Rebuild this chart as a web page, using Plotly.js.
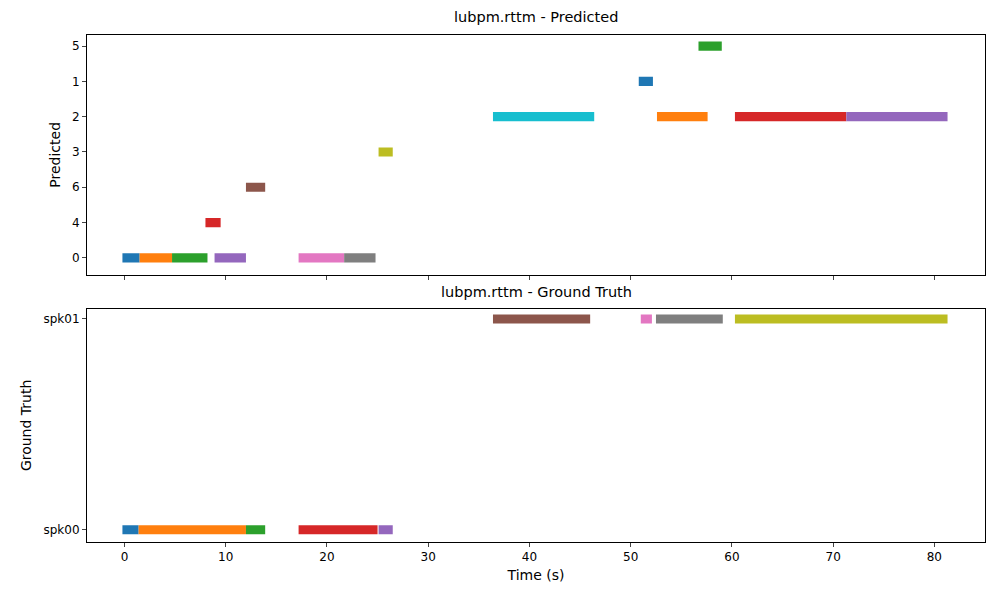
<!DOCTYPE html>
<html>
<head>
<script src="https://cdn.plot.ly/plotly-3.0.1.min.js"></script>
</head>
<body style="margin:0">
<div id="chart" style="width:1000px;height:600px"></div>
<script>
// Predicted segments: label, start, end (seconds)
var predLabels = ['0', '0', '0', '4', '0', '6', '0', '0', '3', '2', '1', '2', '5', '2', '2'];
var predStart = [-0.2, 1.5, 4.7, 8.0, 8.9, 12.0, 17.2, 21.7, 25.1, 36.4, 50.8, 52.6, 56.7, 60.3, 71.3];
var predEnd = [1.5, 4.7, 8.2, 9.5, 12.0, 13.9, 21.7, 24.8, 26.5, 46.4, 52.2, 57.6, 59.0, 71.3, 81.3];
var predOrder = ['0', '4', '6', '3', '2', '1', '5'];

// Ground truth segments
var gtLabels = ['spk00', 'spk00', 'spk00', 'spk00', 'spk00', 'spk01', 'spk01', 'spk01', 'spk01'];
var gtStart = [-0.2, 1.4, 12.0, 17.2, 25.1, 36.4, 51.0, 52.5, 60.3];
var gtEnd = [1.4, 12.0, 13.9, 25.0, 26.5, 46.0, 52.1, 59.1, 81.3];
var gtOrder = ['spk00', 'spk01'];

var colors = ['#1f77b4', '#ff7f0e', '#2ca02c', '#d62728', '#9467bd',
              '#8c564b', '#e377c2', '#7f7f7f', '#bcbd22', '#17becf'];

var data = [];
function addSegs(labels, starts, ends, order, yax, w) {
    for (var i = 0; i < labels.length; i++) {
        data.push({
            type: 'bar', orientation: 'h',
            y: [order.indexOf(labels[i])], base: [starts[i]], x: [ends[i] - starts[i]],
            width: w, yaxis: yax, xaxis: yax == 'y' ? 'x' : 'x2',
            marker: {color: colors[i % 10]}, hoverinfo: 'none'
        });
    }
}
addSegs(predLabels, predStart, predEnd, predOrder, 'y', 0.26);
addSegs(gtLabels, gtStart, gtEnd, gtOrder, 'y2', 0.043);

var axisStyle = {showline: true, mirror: true, linecolor: 'black', linewidth: 1,
                 ticks: 'outside', ticklen: 4, showgrid: false, zeroline: false};

var layout = {
    width: 1000, height: 600, showlegend: false, barmode: 'overlay',
    font: {family: 'DejaVu Sans', size: 12, color: 'black'},
    margin: {l: 0, r: 0, t: 0, b: 0},
    plot_bgcolor: 'white', paper_bgcolor: 'white',
    xaxis: Object.assign({}, axisStyle, {domain: [0.087, 0.985], range: [-3.7, 85],
        dtick: 10, showticklabels: false, anchor: 'y'}),
    xaxis2: Object.assign({}, axisStyle, {domain: [0.087, 0.985], range: [-3.7, 85],
        dtick: 10, anchor: 'y2', matches: 'x', title: {text: 'Time (s)', standoff: 6}}),
    yaxis: Object.assign({}, axisStyle, {domain: [0.542, 0.942], range: [-0.48, 6.32],
        tickvals: [0, 1, 2, 3, 4, 5, 6], ticktext: predOrder, anchor: 'x',
        title: {text: 'Predicted', standoff: 8}}),
    yaxis2: Object.assign({}, axisStyle, {domain: [0.097, 0.485], range: [-0.057, 1.047],
        tickvals: [0, 1], ticktext: gtOrder, anchor: 'x2',
        title: {text: 'Ground Truth', standoff: 8}}),
    annotations: [
        {text: 'lubpm.rttm - Predicted', xref: 'paper', yref: 'paper', x: 0.536, y: 0.955,
         xanchor: 'center', yanchor: 'bottom', showarrow: false, font: {size: 14.5}},
        {text: 'lubpm.rttm - Ground Truth', xref: 'paper', yref: 'paper', x: 0.536, y: 0.497,
         xanchor: 'center', yanchor: 'bottom', showarrow: false, font: {size: 14.5}}
    ]
};

Plotly.newPlot('chart', data, layout, {staticPlot: true});
</script>
</body>
</html>
